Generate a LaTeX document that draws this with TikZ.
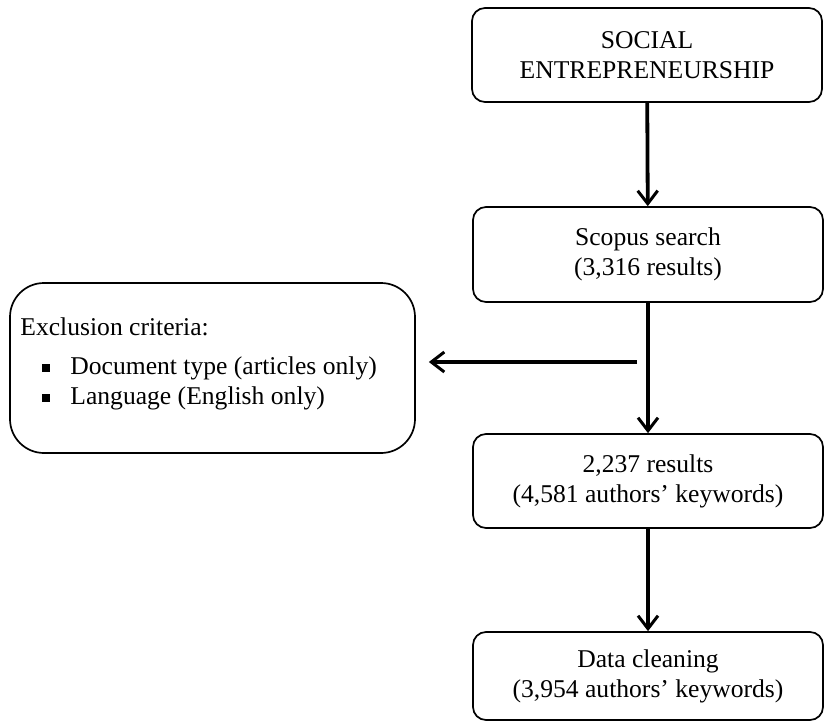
\documentclass[tikz,border=0pt]{standalone}
\usepackage{fontspec}
\setmainfont{Liberation Serif}
\usetikzlibrary{arrows.meta}

\begin{document}
\begin{tikzpicture}[x=0.5pt, y=-0.5pt,
      bx/.style={draw=black, line width=0.85pt, rounded corners=6.5pt, minimum width=175pt, inner sep=0pt, align=center, font=\fontsize{12.8}{15}\selectfont},
      tx/.style={inner sep=0pt, font=\fontsize{12.8}{15}\selectfont},
      sq/.style={fill=black, minimum size=3.8pt, inner sep=0pt},
      ar/.style={line width=1.9pt, -{Straight Barb[length=6.5pt, width=10pt, line width=1.5pt]}}]
    \useasboundingbox (0,0) rectangle (824,722);
    % main column
    \node[bx, minimum height=47pt] (topic) at (647,55) {SOCIAL\\ENTREPRENEURSHIP};
    \node[bx, minimum height=47.5pt] (scopus) at (648,254.5) {Scopus search\\(3,316 results)};
    \node[bx, minimum height=47pt] (results) at (648,481) {2,237 results\\(4,581 authors' keywords)};
    \node[bx, minimum height=44pt] (cleaning) at (648,676) {Data cleaning\\(3,954 authors' keywords)};
    \draw[ar] (topic) -- (scopus);
    \draw[ar] (scopus) -- (results);
    \draw[ar] (results) -- (cleaning);
    % exclusion box
    \node[draw=black, line width=0.85pt, rounded corners=17pt, minimum width=202.5pt, minimum height=85pt] (excl) at (212.5,368) {};
    \node[tx, anchor=west] (head) at (20,327) {Exclusion criteria:};
    \foreach \i/\t/\y in {1/Document type (articles only)/368, 2/Language (English only)/398} {
      \node[sq] (bul\i) at (46,\y) {};
      \node[tx, anchor=west] (crit\i) at (70,\y) {\t};
    }
    \coordinate (split) at (637,362);
    \draw[ar, shorten >=6.5pt] (split) -- (split -| excl.east);
  \end{tikzpicture}
\end{document}
